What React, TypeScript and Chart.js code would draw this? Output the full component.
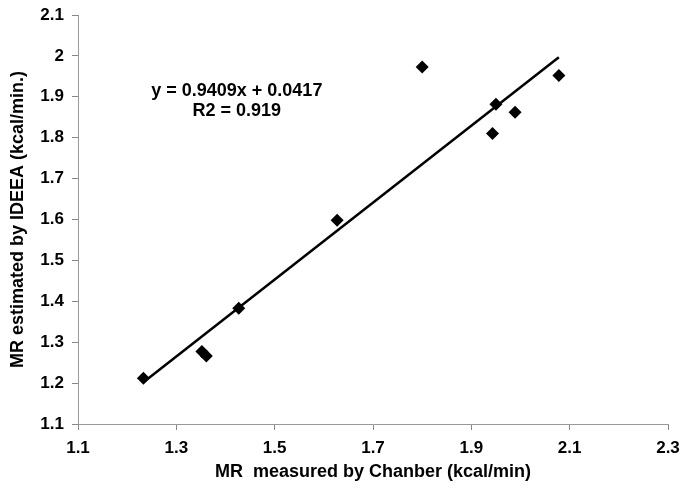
import React, { useEffect, useRef } from "react";
import { Chart, registerables } from "chart.js";

Chart.register(...registerables);

const measuredX = [1.233, 1.352, 1.361, 1.427, 1.627, 1.800, 1.943, 1.950, 1.989, 2.078];
const estimatedY = [1.212, 1.277, 1.266, 1.383, 1.598, 1.973, 1.810, 1.882, 1.862, 1.952];
const slope = 0.9409;
const intercept = 0.0417;
const equationLines = ["y = 0.9409x + 0.0417", "R2 = 0.919"];
const xTitle = "MR  measured by Chanber (kcal/min)";
const yTitle = "MR estimated by IDEEA (kcal/min.)";

const FONT = "'Liberation Sans', Arial, sans-serif";

export default function App() {
  const ref = useRef<HTMLCanvasElement | null>(null);

  useEffect(() => {
    document.body.style.margin = "0";
    const canvas = ref.current;
    if (!canvas) return;
    const xMin = Math.min(...measuredX);
    const xMax = Math.max(...measuredX);
    const trend = [xMin, xMax].map((x) => ({ x, y: slope * x + intercept }));

    const textPlugin = {
      id: "eqText",
      afterDraw(chart: any) {
        const { ctx, scales } = chart;
        const cx = scales.x.getPixelForValue(1.423);
        ctx.save();
        ctx.fillStyle = "#000";
        ctx.font = `bold 18px ${FONT}`;
        ctx.textAlign = "center";
        ctx.textBaseline = "middle";
        ctx.fillText(equationLines[0], cx, scales.y.getPixelForValue(1.915));
        ctx.fillText(equationLines[1], cx, scales.y.getPixelForValue(1.864));
        ctx.restore();
      },
    };

    const chart = new Chart(canvas, {
      type: "scatter",
      data: {
        datasets: [
          {
            type: "scatter",
            data: measuredX.map((x, i) => ({ x, y: estimatedY[i] })),
            pointStyle: "rectRot",
            pointRadius: 6.5,
            backgroundColor: "#000",
            borderColor: "#000",
            borderWidth: 0,
          },
          {
            type: "line",
            data: trend,
            borderColor: "#000",
            borderWidth: 2.5,
            pointRadius: 0,
            fill: false,
          } as any,
        ],
      },
      options: {
        animation: false,
        responsive: false,
        layout: { padding: { top: 15, right: 0, left: 0, bottom: 8 } },
        plugins: { legend: { display: false }, tooltip: { enabled: false } },
        scales: {
          x: {
            type: "linear",
            min: 1.1,
            max: 2.3,
            ticks: {
              stepSize: 0.2,
              color: "#000",
              font: { family: FONT, size: 17, weight: "bold" },
              padding: 8,
              callback: (v: any) => Number(v).toFixed(1),
            },
            grid: { drawOnChartArea: false, drawTicks: true, tickLength: 6, color: "#888" },
            border: { color: "#999", width: 1 },
            title: {
              display: true,
              text: xTitle,
              color: "#000",
              font: { family: FONT, size: 18, weight: "bold" },
              padding: { top: 5 },
            },
            afterFit: (s: any) => {
              s.height = 63;
              s.paddingRight = 15;
              s.paddingLeft = 0;
            },
          },
          y: {
            type: "linear",
            min: 1.1,
            max: 2.1,
            ticks: {
              stepSize: 0.1,
              color: "#000",
              font: { family: FONT, size: 17, weight: "bold" },
              padding: 8,
              callback: (v: any) => {
                const n = Math.round(Number(v) * 10) / 10;
                return Number.isInteger(n) ? String(n) : n.toFixed(1);
              },
            },
            grid: { drawOnChartArea: false, drawTicks: true, tickLength: 6, color: "#888" },
            border: { color: "#999", width: 1 },
            title: {
              display: true,
              text: yTitle,
              color: "#000",
              font: { family: FONT, size: 18, weight: "bold" },
              padding: { top: 7, bottom: 0 },
            },
            afterFit: (s: any) => {
              s.width = 78;
              s.paddingTop = 0;
              s.paddingBottom = 0;
            },
          },
        },
      },
      plugins: [textPlugin],
    });
    return () => chart.destroy();
  }, []);

  return (
    <div style={{ position: "absolute", left: 0, top: 0, width: 683, height: 495, background: "#fff" }}>
      <canvas ref={ref} width={683} height={495} style={{ width: 683, height: 495 }} />
    </div>
  );
}
